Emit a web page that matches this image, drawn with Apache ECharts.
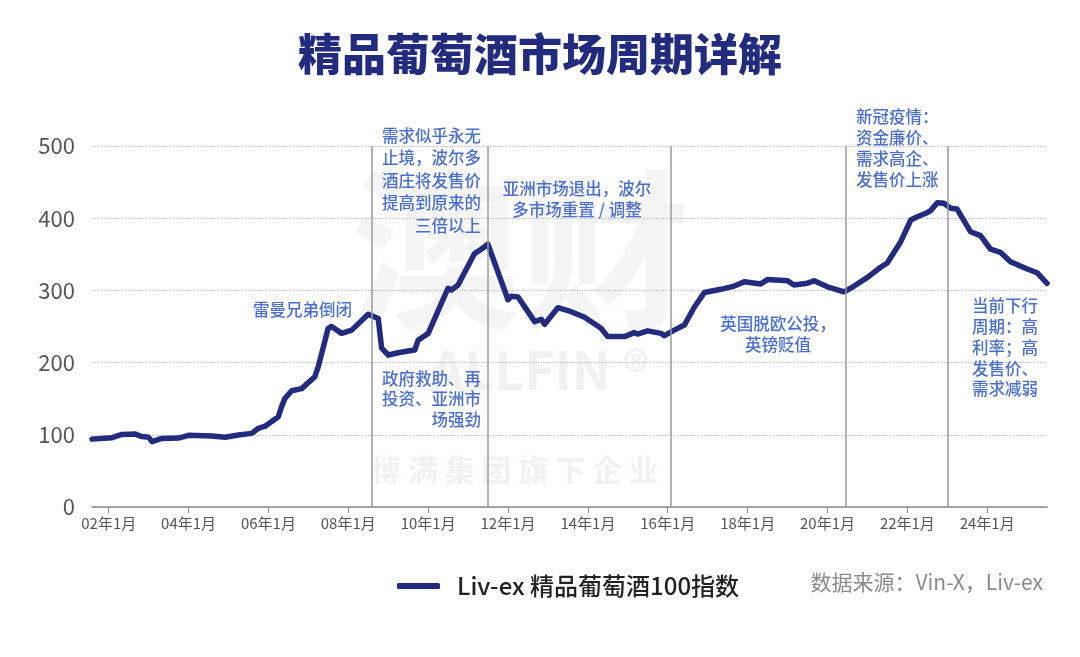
<!DOCTYPE html>
<html>
<head>
<meta charset="utf-8">
<title>精品葡萄酒市场周期详解</title>
<script src="https://cdn.jsdelivr.net/npm/echarts@6/dist/echarts.min.js"></script>
<style>
  html, body { margin: 0; padding: 0; background: #fff; }
  #main { width: 1080px; height: 657px; }
</style>
</head>
<body>
<div id="main"></div>
<script>
// Liv-ex 精品葡萄酒100指数，按图读出的月度估值
var months = [
  '2001-08', '2002-02', '2002-05', '2002-09', '2002-11', '2003-01', '2003-02', '2003-05', '2003-10',
  '2004-01', '2004-08', '2004-12', '2005-04', '2005-08', '2005-10', '2005-12', '2006-04', '2006-05',
  '2006-06', '2006-08', '2006-11', '2007-03', '2007-04', '2007-07', '2007-08', '2007-11', '2008-02',
  '2008-07', '2008-10', '2008-11', '2009-01', '2009-04', '2009-07', '2009-09', '2009-10', '2010-01',
  '2010-07', '2010-08', '2010-10', '2011-03', '2011-05', '2011-07', '2012-01', '2012-02', '2012-04',
  '2012-09', '2012-11', '2012-12', '2013-04', '2013-08', '2013-12', '2014-05', '2014-07', '2014-12',
  '2015-03', '2015-04', '2015-07', '2015-11', '2015-12', '2016-03', '2016-06', '2016-09', '2016-12',
  '2017-05', '2017-09', '2017-12', '2018-05', '2018-07', '2019-01', '2019-03', '2019-07', '2019-09',
  '2020-01', '2020-06', '2020-09', '2021-01', '2021-05', '2021-07', '2021-11', '2022-02', '2022-04',
  '2022-07', '2022-08', '2022-10', '2022-12', '2023-02', '2023-04', '2023-08', '2023-11', '2024-02',
  '2024-05', '2024-08', '2025-01', '2025-04', '2025-07'
];
var indexValues = [
  94, 96, 100.5, 101, 97.5, 96.5, 90.5, 95, 95.5,
  99.3, 98.3, 96.5, 99.7, 102, 109, 112, 125, 139,
  150.5, 161, 164, 180.5, 194, 247.5, 250, 240.5, 245,
  267, 261, 220, 210.5, 213.7, 216, 217.5, 231, 240.5,
  303, 300.5, 307.5, 351, 357, 364, 287, 292, 291,
  256.7, 260, 253, 276, 270.5, 262.7, 247.5, 236, 236,
  241.5, 239.6, 244, 240.5, 237.3, 245, 252, 277, 297,
  301.5, 306, 312, 309, 315, 313.4, 307.5, 310, 313.4,
  305, 298, 306, 318, 332, 338, 367.5, 397.5, 402,
  407.6, 410.4, 421.5, 420.6, 413.7, 412.7, 381.3, 375.8, 357,
  352.7, 339.8, 329.6, 324.5, 309.8
];
var tickMonths = ['2002-01', '2004-01', '2006-01', '2008-01', '2010-01', '2012-01',
  '2014-01', '2016-01', '2018-01', '2020-01', '2022-01', '2024-01'];
// 周期分界线
var cycleMonths = ['2008-08', '2011-07', '2016-02', '2020-06-15', '2023-01'];

function toTime(s) {
  var p = s.split('-');
  return new Date(+p[0], +p[1] - 1, p[2] ? +p[2] : 1).getTime();
}

var FONT = '"Noto Sans CJK SC", "Noto Sans", sans-serif';
var noteColor = '#4a6fcf';

var chart = echarts.init(document.getElementById('main'));

function note(text, x, y, align, lineHeight) {
  return {
    type: 'text',
    x: x,
    y: y,
    z: 10,
    style: {
      text: text,
      fill: noteColor,
      font: '500 16.5px ' + FONT,
      align: align,
      verticalAlign: 'top',
      lineHeight: lineHeight
    }
  };
}

var option = {
  backgroundColor: '#fff',
  textStyle: { fontFamily: FONT },
  grid: { left: 92, right: 33, top: 146, bottom: 150 },
  legend: {
    data: ['Liv-ex 精品葡萄酒100指数'],
    left: 392,
    top: 569,
    icon: 'roundRect',
    itemWidth: 43,
    itemHeight: 6,
    textStyle: { fontSize: 24, fontWeight: 500, color: '#222', padding: [0, 0, 0, 12], fontFamily: FONT }
  },
  xAxis: {
    // 时间戳当数值轴用，刻度只放偶数年1月
    type: 'value',
    min: toTime('2001-08'),
    max: toTime('2025-07'),
    axisLine: { lineStyle: { color: '#8c8c8c', width: 1.5 } },
    axisTick: {
      customValues: tickMonths.map(toTime),
      length: 6,
      lineStyle: { color: '#8c8c8c' }
    },
    axisLabel: {
      customValues: tickMonths.map(toTime),
      fontSize: 15,
      color: '#555',
      margin: 9,
      formatter: function (val) {
        var d = new Date(val);
        return String(d.getFullYear()).slice(2) + '年' + (d.getMonth() + 1) + '月';
      }
    },
    splitLine: { show: false }
  },
  yAxis: {
    type: 'value',
    min: 0,
    max: 500,
    interval: 100,
    axisLine: { show: false },
    axisTick: { show: false },
    axisLabel: { fontSize: 22, color: '#555', margin: 17 },
    splitLine: { lineStyle: { color: '#b8b8b8', type: 'dotted', width: 1.2 } }
  },
  series: [
    {
      name: 'Liv-ex 精品葡萄酒100指数',
      type: 'line',
      data: months.map(function (m, i) { return [toTime(m), indexValues[i]]; }),
      showSymbol: false,
      color: '#232b7f',
      lineStyle: { width: 5.5, color: '#232b7f', join: 'round', cap: 'round' },
      markLine: {
        silent: true,
        symbol: 'none',
        label: { show: false },
        lineStyle: { color: '#9a9a9a', width: 1.5, type: 'solid' },
        data: cycleMonths.map(function (m) { return { xAxis: toTime(m) }; })
      },
      z: 3
    }
  ],
  graphic: [
    // 水印
    {
      type: 'text', x: 520, y: 250, z: 0,
      style: { text: '澳财', fill: '#f4f4f4', font: 'bold 170px ' + FONT, align: 'center', verticalAlign: 'middle' }
    },
    {
      type: 'text', x: 540, y: 370, z: 0,
      style: { text: 'ALLFIN ®', fill: '#f1f1f1', font: 'bold 52px ' + FONT, align: 'center', verticalAlign: 'middle' }
    },
    {
      type: 'text', x: 515, y: 470, z: 0,
      style: { text: '博 满 集 团 旗 下 企 业', fill: '#f1f1f1', font: 'bold 30px ' + FONT, align: 'center', verticalAlign: 'middle' }
    },
    {
      type: 'text', left: 'center', top: 32,
      style: { text: '精品葡萄酒市场周期详解', fill: '#222b7d', font: '900 44px ' + FONT }
    },
    {
      type: 'text', right: 37, top: 572,
      style: { text: '数据来源：Vin-X，Liv-ex', fill: '#8a8a8a', font: '21px ' + FONT }
    },
    note('雷曼兄弟倒闭', 352, 299, 'right', 21),
    note('需求似乎永无\n止境，波尔多\n酒庄将发售价\n提高到原来的\n三倍以上', 481, 124, 'right', 22.5),
    note('亚洲市场退出，波尔\n多市场重置 / 调整', 577, 178.5, 'center', 21),
    note('政府救助、再\n投资、亚洲市\n场强劲', 481, 368, 'right', 20.5),
    note('英国脱欧公投，\n英镑贬值', 778, 313.5, 'center', 21),
    note('新冠疫情：\n资金廉价、\n需求高企、\n发售价上涨', 856, 106.5, 'left', 21),
    note('当前下行\n周期：高\n利率；高\n发售价、\n需求减弱', 972, 295.5, 'left', 20.8)
  ]
};

chart.setOption(option);
</script>
</body>
</html>
